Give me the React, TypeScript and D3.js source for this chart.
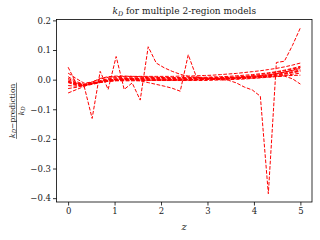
import React, { useEffect, useRef } from "react";
import * as d3 from "d3";

// z grid (30 points between 0 and 5)
const zGrid = [
  0, 0.172, 0.345, 0.517, 0.69, 0.862, 1.034, 1.207, 1.379, 1.552,
  1.724, 1.897, 2.069, 2.241, 2.414, 2.586, 2.759, 2.931, 3.103, 3.276,
  3.448, 3.621, 3.793, 3.966, 4.138, 4.31, 4.483, 4.655, 4.828, 5.0,
];

// relative error for each 2-region model
const modelA = [0.042, -0.012, -0.022, -0.131, 0.028, -0.033, 0.078, -0.033, -0.011, -0.069, 0.111, 0.056, 0.04, 0.028, 0.018, 0.011, 0.007, 0.005, 0.004, 0.004, 0.005, 0.006, 0.008, 0.01, 0.013, 0.016, 0.02, 0.025, 0.031, 0.038];
const modelB = [-0.008, -0.017, -0.019, -0.013, -0.006, -0.002, 0.0, 0.001, 0.002, -0.004, -0.01, -0.016, -0.022, -0.029, -0.039, 0.084, 0.01, 0.003, 0.001, 0.0, -0.002, -0.011, -0.025, -0.035, -0.056, -0.385, 0.058, 0.062, 0.115, 0.175];
const modelC = [0.022, 0.004, -0.012, -0.008, 0.002, 0.008, 0.01, 0.011, 0.011, 0.011, 0.011, 0.011, 0.011, 0.011, 0.012, 0.012, 0.013, 0.014, 0.015, 0.017, 0.019, 0.021, 0.024, 0.027, 0.03, 0.034, 0.038, 0.043, 0.049, 0.056];
const modelD = [0.01, -0.006, -0.016, -0.012, -0.004, 0.004, 0.007, 0.008, 0.008, 0.008, 0.007, 0.007, 0.007, 0.007, 0.007, 0.007, 0.008, 0.008, 0.009, 0.01, 0.011, 0.013, 0.015, 0.017, 0.02, 0.023, 0.027, 0.032, 0.038, 0.045];
const modelE = [0.0, -0.012, -0.018, -0.014, -0.007, -0.002, 0.002, 0.003, 0.004, 0.004, 0.004, 0.004, 0.004, 0.004, 0.004, 0.004, 0.004, 0.005, 0.005, 0.006, 0.007, 0.008, 0.01, 0.012, 0.014, 0.017, 0.021, 0.026, 0.032, 0.04];
const modelF = [-0.005, -0.016, -0.02, -0.015, -0.009, -0.004, -0.001, 0.0, 0.001, 0.001, 0.001, 0.001, 0.001, 0.001, 0.001, 0.001, 0.002, 0.002, 0.003, 0.003, 0.004, 0.005, 0.007, 0.009, 0.011, 0.014, 0.018, 0.022, 0.027, 0.033];
const modelG = [-0.01, -0.019, -0.021, -0.016, -0.01, -0.006, -0.003, -0.002, -0.001, -0.001, -0.001, -0.001, 0.0, 0.0, 0.0, 0.0, 0.001, 0.001, 0.001, 0.002, 0.003, 0.004, 0.005, 0.007, 0.009, 0.011, 0.014, 0.018, 0.023, 0.028];
const modelH = [-0.02, -0.022, -0.02, -0.014, -0.009, -0.005, -0.003, -0.002, -0.002, -0.002, -0.002, -0.001, -0.001, -0.001, -0.001, -0.001, 0.0, 0.0, 0.001, 0.001, 0.002, 0.003, 0.004, 0.005, 0.007, 0.009, 0.011, 0.014, 0.018, 0.022];
const modelI = [-0.03, -0.026, -0.02, -0.013, -0.008, -0.005, -0.004, -0.004, -0.004, -0.004, -0.003, -0.003, -0.003, -0.002, -0.002, -0.001, -0.001, 0.0, 0.001, 0.002, 0.003, 0.004, 0.006, 0.008, 0.01, 0.013, 0.016, 0.02, 0.025, 0.03];
const modelJ = [-0.045, -0.034, -0.023, -0.012, -0.004, 0.001, 0.003, 0.004, 0.004, 0.003, 0.003, 0.002, 0.002, 0.002, 0.002, 0.002, 0.003, 0.003, 0.004, 0.005, 0.007, 0.009, 0.011, 0.014, 0.017, 0.021, 0.025, 0.03, 0.036, 0.042];
const modelK = [-0.005, -0.014, -0.016, -0.008, 0.004, 0.01, 0.012, 0.012, 0.011, 0.01, 0.009, 0.008, 0.007, 0.006, 0.006, 0.006, 0.006, 0.006, 0.007, 0.007, 0.008, 0.008, 0.009, 0.009, 0.01, 0.011, 0.012, 0.013, 0.014, 0.015];
const modelL = [0.005, -0.01, -0.017, -0.013, -0.006, -0.001, 0.001, 0.001, 0.0, -0.001, -0.002, -0.002, -0.003, -0.003, -0.003, -0.003, -0.003, -0.003, -0.002, -0.001, 0.0, 0.001, 0.002, 0.004, 0.006, 0.008, 0.01, 0.012, 0.003, -0.015];

const models = [modelC, modelD, modelE, modelF, modelG, modelH, modelI, modelJ, modelK, modelL, modelA, modelB];

const xTicks = [0, 1, 2, 3, 4, 5];
const yTicks = [-0.4, -0.3, -0.2, -0.1, 0.0, 0.1, 0.2];

const W = 320, H = 240;
const margin = { left: 56.5, right: 8, top: 19.5, bottom: 38 };
const font = "DejaVu Serif";

export default function App() {
  const svgRef = useRef<SVGSVGElement>(null);

  useEffect(() => {
    const svg = d3.select(svgRef.current);
    svg.selectAll("*").remove();

    const innerW = W - margin.left - margin.right;
    const innerH = H - margin.top - margin.bottom;

    // matplotlib style 5% padding
    const zExt = d3.extent(zGrid) as [number, number];
    const allVals = models.flat();
    const yExt = d3.extent(allVals) as [number, number];
    const zPad = (zExt[1] - zExt[0]) * 0.05;
    const yPad = (yExt[1] - yExt[0]) * 0.05;

    const x = d3.scaleLinear().domain([zExt[0] - zPad, zExt[1] + zPad]).range([0, innerW]);
    const y = d3.scaleLinear().domain([yExt[0] - yPad, yExt[1] + yPad]).range([innerH, 0]);

    const g = svg.append("g").attr("transform", `translate(${margin.left},${margin.top})`);

    const line = d3
      .line<number>()
      .x((_, i) => x(zGrid[i]))
      .y((d) => y(d));

    g.append("g")
      .selectAll("path")
      .data(models)
      .enter()
      .append("path")
      .attr("d", (d) => line(d))
      .attr("fill", "none")
      .attr("stroke", "#ff0000")
      .attr("stroke-width", 1)
      .attr("stroke-dasharray", "3.7,1.6");

    // axes
    const xAxis = g
      .append("g")
      .attr("transform", `translate(0,${innerH})`)
      .call(d3.axisBottom(x).tickValues(xTicks).tickFormat(d3.format("d")).tickSize(3.5).tickPadding(2.5));
    const yAxis = g
      .append("g")
      .call(d3.axisLeft(y).tickValues(yTicks).tickFormat(d3.format(".1f")).tickSize(3.5).tickPadding(2));

    [xAxis, yAxis].forEach((ax) => {
      ax.attr("font-family", font).attr("font-size", 8.5);
      ax.select(".domain").remove();
      ax.selectAll("line").attr("stroke", "#000").attr("stroke-width", 0.8);
      ax.selectAll("text").attr("fill", "#222");
    });

    // frame
    g.append("rect")
      .attr("width", innerW)
      .attr("height", innerH)
      .attr("fill", "none")
      .attr("stroke", "#000")
      .attr("stroke-width", 0.8);

    // title
    const title = svg
      .append("text")
      .attr("x", margin.left + innerW / 2)
      .attr("y", 14)
      .attr("text-anchor", "middle")
      .attr("font-family", font)
      .attr("font-size", 9)
      .attr("fill", "#222");
    title.append("tspan").attr("font-style", "italic").text("k");
    title.append("tspan").attr("font-style", "italic").attr("font-size", 6.5).attr("dy", 2).text("D");
    title.append("tspan").attr("dy", -2).text(" for multiple 2-region models");

    // x label
    svg
      .append("text")
      .attr("x", margin.left + innerW / 2)
      .attr("y", 230)
      .attr("text-anchor", "middle")
      .attr("font-family", font)
      .attr("font-size", 10)
      .attr("font-style", "italic")
      .attr("fill", "#222")
      .text("z");

    // y label: (k_D - prediction) / k_D
    const yl = svg
      .append("g")
      .attr("transform", `translate(16.5,${margin.top + innerH / 2}) rotate(-90)`)
      .attr("font-family", font)
      .attr("font-size", 7.5)
      .attr("fill", "#222");

    const num = yl.append("text").attr("y", -1.8).attr("text-anchor", "middle");
    num.append("tspan").attr("font-style", "italic").text("k");
    num.append("tspan").attr("font-style", "italic").attr("font-size", 5.5).attr("dy", 1.5).text("D");
    num.append("tspan").attr("dy", -1.5).text("\u2212prediction");

    const numW = (num.node() as SVGTextElement).getComputedTextLength();
    yl.append("line")
      .attr("x1", -numW / 2 - 1)
      .attr("x2", numW / 2 + 1)
      .attr("stroke", "#222")
      .attr("stroke-width", 0.6);

    const den = yl.append("text").attr("y", 7).attr("text-anchor", "middle");
    den.append("tspan").attr("font-style", "italic").text("k");
    den.append("tspan").attr("font-style", "italic").attr("font-size", 5.5).attr("dy", 1.5).text("D");
  }, []);

  return (
    <div style={{ position: "fixed", left: 0, top: 0 }}>
      <svg ref={svgRef} width={W} height={H} style={{ display: "block", background: "#fff" }} />
    </div>
  );
}
